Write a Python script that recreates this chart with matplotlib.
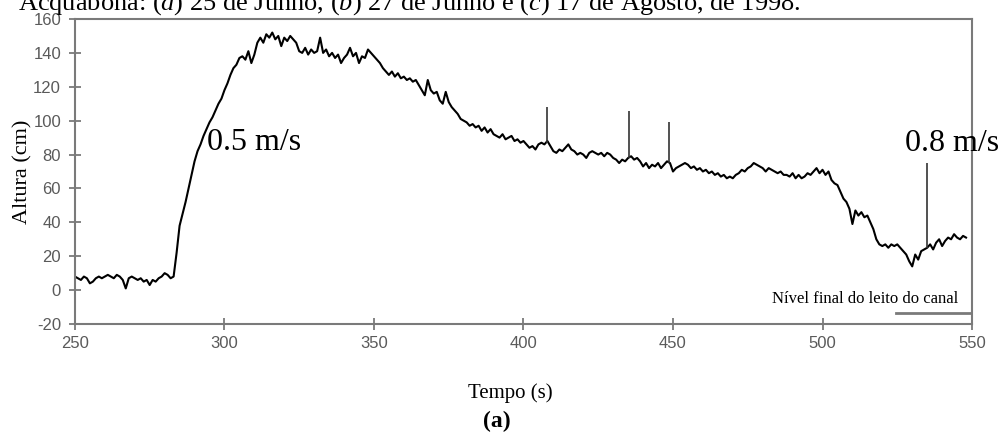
import numpy as np
import matplotlib
matplotlib.use("Agg")
import matplotlib.pyplot as plt

# water height, one value per second from 250 s
t_start = 250
altura = [
    8, 7, 6, 8, 7, 4, 5, 7, 8, 7,
    8, 9, 8, 7, 9, 8, 6, 1, 7, 8,
    7, 6, 7, 5, 6, 3, 6, 5, 7, 8,
    10, 9, 7, 8, 22, 38, 45, 52, 60, 68,
    76, 82, 86, 91, 95, 99, 102, 106, 110, 113,
    118, 122, 127, 131, 133, 137, 138, 136, 141, 134,
    139, 146, 149, 146, 151, 149, 152, 148, 150, 144,
    149, 147, 150, 148, 146, 141, 140, 143, 139, 142,
    140, 141, 149, 140, 142, 138, 140, 137, 139, 134,
    137, 139, 143, 138, 140, 134, 138, 137, 142, 140,
    138, 136, 134, 131, 129, 127, 129, 126, 128, 125,
    126, 124, 125, 123, 124, 121, 118, 115, 124, 118,
    116, 117, 112, 110, 117, 111, 108, 106, 104, 101,
    100, 99, 97, 98, 96, 97, 94, 96, 93, 95,
    92, 91, 90, 92, 89, 90, 91, 88, 89, 87,
    88, 86, 84, 85, 83, 86, 87, 86, 88, 85,
    82, 81, 83, 82, 84, 86, 83, 82, 80, 81,
    80, 78, 81, 82, 81, 80, 81, 79, 81, 80,
    78, 77, 75, 77, 76, 78, 79, 77, 78, 76,
    73, 75, 72, 74, 73, 75, 72, 74, 76, 75,
    70, 72, 73, 74, 75, 74, 72, 73, 71, 72,
    70, 71, 69, 70, 68, 69, 67, 68, 66, 67,
    66, 68, 69, 71, 70, 72, 73, 75, 74, 73,
    72, 70, 72, 71, 70, 69, 70, 68, 68, 67,
    69, 66, 68, 66, 67, 69, 68, 70, 72, 69,
    71, 68, 70, 65, 63, 62, 58, 54, 52, 48,
    39, 47, 44, 46, 43, 44, 40, 36, 30, 27,
    26, 27, 25, 27, 26, 27, 25, 23, 21, 17,
    14, 21, 18, 23, 24, 25, 27, 24, 28, 30,
    26, 29, 31, 30, 33, 31, 30, 32, 31,
]

# narrow spikes in the record
spike_t = [407.7, 435.3, 448.7, 534.8]
spike_base = [87, 78, 75, 25]
spike_top = [108, 106, 99, 75]

# final channel bed level mark
leito_t = [524.6, 550]
leito_y = [-13.6, -13.6]

x_ticks = [250, 300, 350, 400, 450, 500, 550]
y_ticks = [-20, 0, 20, 40, 60, 80, 100, 120, 140, 160]

plt.rcParams["mathtext.fontset"] = "custom"
plt.rcParams["mathtext.rm"] = "Liberation Serif"
plt.rcParams["mathtext.it"] = "Liberation Serif:italic"
plt.rcParams["axes.unicode_minus"] = False

serif = "Liberation Serif"
sans = "Liberation Sans"
gray = "#7a7a7a"

fig = plt.figure(figsize=(9.99, 4.32), dpi=100)
ax = fig.add_axes([0.075, 0.25, 0.898, 0.706])

tempo = np.arange(len(altura)) + t_start
ax.plot(tempo, altura, color="black", lw=1.5)
ax.vlines(spike_t, spike_base, spike_top, color="#333333", lw=1.2)
ax.plot(leito_t, leito_y, color=gray, lw=2)

ax.set_xlim(250, 550)
ax.set_ylim(-20, 160)
ax.set_xticks(x_ticks)
ax.set_yticks(y_ticks)
ax.tick_params(direction="inout", length=8, width=1.3, color=gray,
               labelcolor="#5a5a5a", labelsize=12)
ax.tick_params(axis="x", pad=5)
ax.tick_params(axis="y", pad=6)
for lab in ax.get_xticklabels() + ax.get_yticklabels():
    lab.set_family(sans)
for sp in ax.spines.values():
    sp.set_color(gray)
    sp.set_linewidth(1.5)

ax.set_ylabel("Altura (cm)", family=serif, fontsize=16)
ax.yaxis.set_label_coords(-0.047, 0.5)

ax.text(294.1, 87, "0.5 m/s", family=serif, fontsize=23, ha="left", va="center")
ax.text(527.6, 86.7, "0.8 m/s", family=serif, fontsize=23, ha="left", va="center",
        clip_on=False)
ax.text(545.3, -5, "Nível final do leito do canal", family=serif, fontsize=12,
        ha="right", va="center")

fig.text(0.511, 1 - 393 / 432, "Tempo (s)", family=serif, fontsize=15,
         ha="center", va="center")
fig.text(0.497, 1 - 421 / 432, "(a)", family=serif, fontsize=17, weight="bold",
         ha="center", va="center")
fig.text(0.018, 1 - 10 / 432,
         "Acquabona: ($a$) 25 de Junho, ($b$) 27 de Junho e ($c$) 17 de Agosto, de 1998.",
         family=serif, fontsize=19, ha="left", va="baseline")

fig.savefig("out.png", dpi=100)
